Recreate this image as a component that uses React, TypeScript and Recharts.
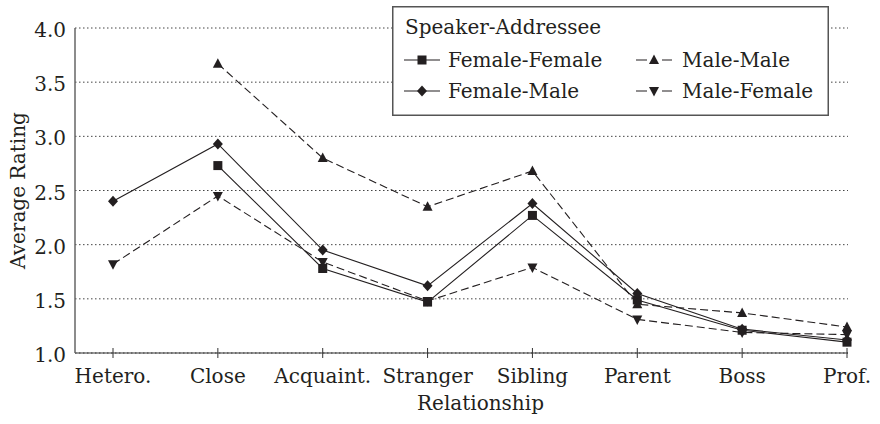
import React from 'react';
import { LineChart, Line, XAxis, YAxis, CartesianGrid, Legend } from 'recharts';

const categories = ['Hetero.', 'Close', 'Acquaint.', 'Stranger', 'Sibling', 'Parent', 'Boss', 'Prof.'];
const femaleFemale = [null, 2.73, 1.78, 1.47, 2.27, 1.49, 1.21, 1.1];
const femaleMale = [2.4, 2.93, 1.95, 1.62, 2.38, 1.55, 1.22, 1.12];
const maleMale = [null, 3.67, 2.8, 2.35, 2.68, 1.45, 1.37, 1.24];
const maleFemale = [1.82, 2.45, 1.84, 1.48, 1.79, 1.31, 1.19, 1.17];
const yTicks = [1.0, 1.5, 2.0, 2.5, 3.0, 3.5, 4.0];

const INK = '#231f20';
const FONT = '"DejaVu Serif", serif';
const FS = 20;

type Shape = 'square' | 'diamond' | 'up' | 'down';

const series: { key: string; name: string; shape: Shape; dashed: boolean }[] = [
  { key: 'ff', name: 'Female-Female', shape: 'square', dashed: false },
  { key: 'fm', name: 'Female-Male', shape: 'diamond', dashed: false },
  { key: 'mm', name: 'Male-Male', shape: 'up', dashed: true },
  { key: 'mf', name: 'Male-Female', shape: 'down', dashed: true },
];

const data = categories.map((name, i) => ({
  name,
  ff: femaleFemale[i],
  fm: femaleMale[i],
  mm: maleMale[i],
  mf: maleFemale[i],
}));

function Marker({ cx, cy, shape }: { cx: number; cy: number; shape: Shape }) {
  if (shape === 'square') {
    return <rect x={cx - 4.5} y={cy - 4.5} width={9} height={9} fill={INK} />;
  }
  if (shape === 'diamond') {
    return <polygon points={`${cx},${cy - 5.5} ${cx + 5},${cy} ${cx},${cy + 5.5} ${cx - 5},${cy}`} fill={INK} />;
  }
  if (shape === 'up') {
    return <polygon points={`${cx},${cy - 5.5} ${cx + 5},${cy + 4} ${cx - 5},${cy + 4}`} fill={INK} />;
  }
  return <polygon points={`${cx},${cy + 5.5} ${cx + 5},${cy - 4} ${cx - 5},${cy - 4}`} fill={INK} />;
}

function makeDot(shape: Shape) {
  return (props: any) => {
    const { cx, cy, index } = props;
    if (cx == null || cy == null || props.value == null) return <g key={`d-${shape}-${index}`} />;
    return (
      <g key={`d-${shape}-${index}`}>
        <Marker cx={cx} cy={cy} shape={shape} />
      </g>
    );
  };
}

function XTick({ x, y, payload }: any) {
  return (
    <g>
      <line x1={x} x2={x} y1={y - 5} y2={y + 5} stroke="#333" strokeWidth={1} />
      <text x={x} y={y + 30} textAnchor="middle" fill={INK} fontSize={FS} fontFamily={FONT}>
        {payload.value}
      </text>
    </g>
  );
}

function LegendBox() {
  const rows = [
    { s: series[0], x: 12, y: 61 },
    { s: series[2], x: 244, y: 61 },
    { s: series[1], x: 12, y: 92 },
    { s: series[3], x: 244, y: 92 },
  ];
  return (
    <svg width={437} height={110} style={{ display: 'block' }}>
      <rect x={0.75} y={0.75} width={435.5} height={108.5} fill="#fff" stroke="#555" strokeWidth={1.5} />
      <text x={13} y={28} fontSize={FS} fontFamily={FONT} fill={INK}>
        Speaker-Addressee
      </text>
      {rows.map(({ s, x, y }) => (
        <g key={s.key}>
          <line
            x1={x}
            x2={x + 36}
            y1={y - 7}
            y2={y - 7}
            stroke={INK}
            strokeWidth={1.1}
            strokeDasharray={s.dashed ? '11 15 10' : undefined}
          />
          <Marker cx={x + 18} cy={y - 7} shape={s.shape} />
          <text x={x + (s.dashed ? 46 : 44)} y={y} fontSize={FS} fontFamily={FONT} fill={INK}>
            {s.name}
          </text>
        </g>
      ))}
    </svg>
  );
}

export default function App() {
  return (
    <div style={{ position: 'fixed', left: 0, top: 0, width: 880, height: 424, background: '#fff' }}>
      <LineChart width={880} height={424} data={data} margin={{ top: 28, right: 32, bottom: 0, left: 0 }}>
        <CartesianGrid vertical={false} stroke="#444" strokeDasharray="1.5 2.5" />
        <XAxis
          dataKey="name"
          interval={0}
          padding={{ left: 38, right: 1 }}
          height={71}
          axisLine={{ stroke: '#333', strokeWidth: 1.2 }}
          tickLine={false}
          tickSize={0}
          tickMargin={0}
          tick={<XTick />}
          label={{
            value: 'Relationship',
            position: 'insideBottom',
            offset: 14,
            dx: 19,
            fill: INK,
            fontSize: FS,
            fontFamily: FONT,
          }}
        />
        <YAxis
          domain={[1, 4]}
          ticks={yTicks}
          interval={0}
          width={75}
          tickFormatter={(v: number) => v.toFixed(1)}
          axisLine={{ stroke: '#666', strokeWidth: 1.5 }}
          tickLine={false}
          tickSize={0}
          tickMargin={9}
          tick={{ fill: INK, fontSize: FS, fontFamily: FONT, dy: 2 }}
          label={{
            value: 'Average Rating',
            angle: -90,
            position: 'insideLeft',
            offset: 18,
            fill: INK,
            fontSize: FS,
            fontFamily: FONT,
            style: { textAnchor: 'middle' },
          }}
        />
        <Legend
          layout="vertical"
          align="center"
          verticalAlign="middle"
          wrapperStyle={{ position: 'absolute', left: 392, top: 6, width: 437, height: 110 }}
          content={() => <LegendBox />}
        />
        {series.map((s) => (
          <Line
            key={s.key}
            dataKey={s.key}
            name={s.name}
            type="linear"
            stroke={INK}
            strokeWidth={1.1}
            strokeDasharray={s.dashed ? '8 4' : undefined}
            dot={makeDot(s.shape)}
            activeDot={false}
            isAnimationActive={false}
          />
        ))}
      </LineChart>
    </div>
  );
}
